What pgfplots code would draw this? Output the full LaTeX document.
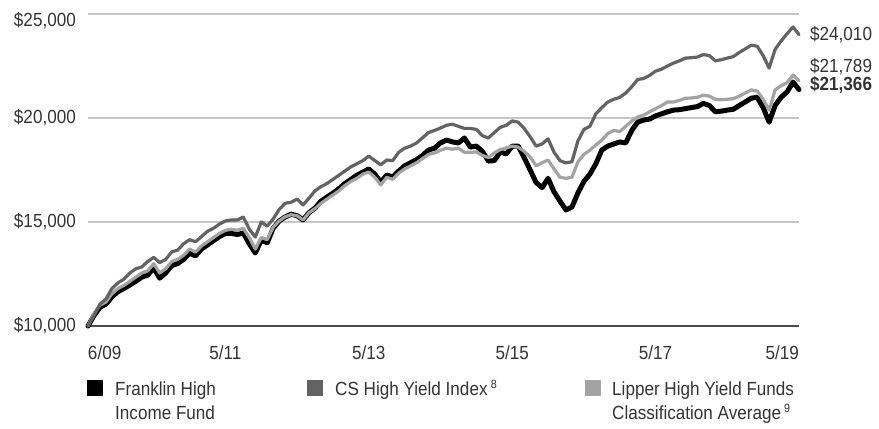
\documentclass[border=0pt]{standalone}
\usepackage{fontspec}
\setmainfont{Liberation Sans}[FakeStretch=0.9]
\usepackage{pgfplots}
\pgfplotsset{compat=1.18}
\usepackage{pgfplotstable}
\definecolor{csgray}{HTML}{636363}
\definecolor{lipgray}{HTML}{A3A3A3}
\definecolor{gridgray}{HTML}{C6C6C6}
\definecolor{axgray}{HTML}{4A4A4A}
\definecolor{txt}{HTML}{333333}
\newcommand{\sups}[1]{\,{\fontsize{12bp}{12bp}\selectfont\raisebox{6.5bp}{#1}}}

\pgfplotstableread{
m v
0 10000
1 10500
2 10900
3 11050
4 11400
5 11650
6 11800
7 11970
8 12150
9 12350
10 12450
11 12790
12 12300
13 12550
14 12900
15 13000
16 13200
17 13500
18 13370
19 13700
20 13900
21 14100
22 14300
23 14450
24 14450
25 14400
26 14470
27 13950
28 13510
29 14130
30 14000
31 14700
32 15050
33 15240
34 15380
35 15300
36 15100
37 15450
38 15670
39 16000
40 16200
41 16390
42 16600
43 16850
44 17050
45 17250
46 17400
47 17550
48 17300
49 16920
50 17260
51 17160
52 17450
53 17700
54 17850
55 18000
56 18200
57 18460
58 18550
59 18800
60 18940
61 18850
62 18800
63 19040
64 18600
65 18650
66 18400
67 17930
68 17950
69 18370
70 18270
71 18650
72 18650
73 18100
74 17500
75 16900
76 16650
77 17100
78 16450
79 16000
80 15580
81 15720
82 16400
83 16950
84 17300
85 17800
86 18460
87 18650
88 18750
89 18850
90 18800
91 19400
92 19800
93 19900
94 19950
95 20100
96 20200
97 20300
98 20380
99 20400
100 20450
101 20500
102 20550
103 20700
104 20600
105 20300
106 20330
107 20380
108 20420
109 20600
110 20770
111 20950
112 21000
113 20500
114 19800
115 20600
116 21000
117 21250
118 21730
119 21366
}\franklin

\pgfplotstableread{
m v
0 10000
1 10500
2 11050
3 11300
4 11800
5 12070
6 12250
7 12550
8 12750
9 12840
10 13100
11 13300
12 13050
13 13200
14 13560
15 13650
16 13950
17 14150
18 14050
19 14300
20 14550
21 14700
22 14900
23 15050
24 15100
25 15100
26 15240
27 14650
28 14280
29 15000
30 14800
31 15150
32 15600
33 15900
34 15950
35 16100
36 15820
37 16150
38 16500
39 16700
40 16850
41 17050
42 17250
43 17450
44 17650
45 17800
46 17950
47 18170
48 17950
49 17750
50 17980
51 17950
52 18350
53 18550
54 18650
55 18800
56 19050
57 19300
58 19400
59 19520
60 19650
61 19700
62 19600
63 19500
64 19500
65 19450
66 19150
67 19040
68 19300
69 19550
70 19650
71 19860
72 19800
73 19500
74 19100
75 18650
76 18750
77 19000
78 18350
79 17950
80 17840
81 17900
82 18900
83 19450
84 19600
85 20200
86 20500
87 20770
88 20900
89 20990
90 21200
91 21500
92 21850
93 21900
94 22050
95 22250
96 22350
97 22500
98 22640
99 22750
100 22880
101 22900
102 22930
103 23050
104 23000
105 22750
106 22800
107 22880
108 22950
109 23150
110 23320
111 23500
112 23450
113 23000
114 22400
115 23300
116 23700
117 24050
118 24375
119 24010
}\cshy

\pgfplotstableread{
m v
0 10000
1 10600
2 11000
3 11150
4 11550
5 11800
6 11950
7 12150
8 12350
9 12550
10 12650
11 13000
12 12550
13 12750
14 13100
15 13200
16 13400
17 13700
18 13550
19 13850
20 14050
21 14250
22 14450
23 14600
24 14650
25 14600
26 14700
27 14250
28 13700
29 14250
30 14150
31 14750
32 15050
33 15250
34 15350
35 15300
36 15100
37 15450
38 15650
39 15900
40 16100
41 16300
42 16500
43 16750
44 16950
45 17100
46 17300
47 17400
48 17150
49 16780
50 17150
51 17050
52 17350
53 17550
54 17700
55 17850
56 18050
57 18250
58 18320
59 18450
60 18550
61 18500
62 18550
63 18350
64 18350
65 18370
66 18200
67 18100
68 18320
69 18480
70 18560
71 18650
72 18600
73 18400
74 18130
75 17700
76 17850
77 17980
78 17550
79 17150
80 17100
81 17150
82 17900
83 18250
84 18450
85 18700
86 18940
87 19250
88 19400
89 19350
90 19600
91 19850
92 20050
93 20140
94 20300
95 20450
96 20600
97 20770
98 20770
99 20850
100 20950
101 20960
102 21000
103 21100
104 21050
105 20900
106 20880
107 20900
108 20930
109 21050
110 21200
111 21350
112 21300
113 20900
114 20380
115 21350
116 21550
117 21700
118 22070
119 21789
}\lipper

\begin{document}
\begin{tikzpicture}
\useasboundingbox (-88bp,-103bp) rectangle (791bp,326bp);
\begin{axis}[
  at={(0,0)}, anchor=south west,
  scale only axis, width=711bp, height=312bp,
  xmin=0, xmax=119, ymin=10000, ymax=25000,
  clip=false,
  scaled y ticks=false,
  separate axis lines,
  axis x line*=bottom, axis y line*=left,
  x axis line style={draw=axgray, line width=2bp, -},
  y axis line style={draw=none},
  major tick length=0pt,
  ytick={10000,15000,20000,25000},
  yticklabels={{\$10,000},{\$15,000},{\$20,000},{\raisebox{-7bp}[\height][\depth]{\$25,000}}},
  xtick={0,23,47,71,95,119},
  xticklabels={{\rlap{6/09}},{5/11},{5/13},{5/15},{5/17},{\llap{5/19}}},
  ymajorgrids,
  grid style={draw=gridgray, line width=1.3bp},
  tick label style={font=\fontsize{19bp}{22bp}\selectfont, text=txt},
  yticklabel style={anchor=east, inner sep=0pt, xshift=-12bp},
  xticklabel style={anchor=base, inner sep=0pt, yshift=-33bp},
]
\addplot[black, line width=5bp, line join=round, line cap=round] table[x=m,y=v]{\franklin};
\addplot[lipgray, line width=3.2bp, line join=round, line cap=round] table[x=m,y=v]{\lipper};
\addplot[csgray, line width=3.2bp, line join=round, line cap=round] table[x=m,y=v]{\cshy};
\end{axis}
\begin{scope}[every node/.style={inner sep=0pt, text=txt, font=\fontsize{19bp}{22bp}\selectfont}]
\node[anchor=west] at (722bp,291bp) {\$24,010};
\node[anchor=west] at (722bp,259bp) {\$21,789};
\node[anchor=west] at (722bp,241bp) {\bfseries \$21,366};
\fill[black] (-1bp,-70bp) rectangle (15bp,-54bp);
\node[anchor=base west] at (27bp,-69bp) {Franklin High};
\node[anchor=base west] at (27bp,-93bp) {Income Fund};
\fill[csgray] (219bp,-70bp) rectangle (235bp,-54bp);
\node[anchor=base west] at (247bp,-69bp) {CS High Yield Index\sups{8}};
\fill[lipgray] (497bp,-70bp) rectangle (513bp,-54bp);
\node[anchor=base west] at (524bp,-69bp) {Lipper High Yield Funds};
\node[anchor=base west] at (524bp,-93bp) {Classification Average\sups{9}};
\end{scope}
\end{tikzpicture}
\end{document}
